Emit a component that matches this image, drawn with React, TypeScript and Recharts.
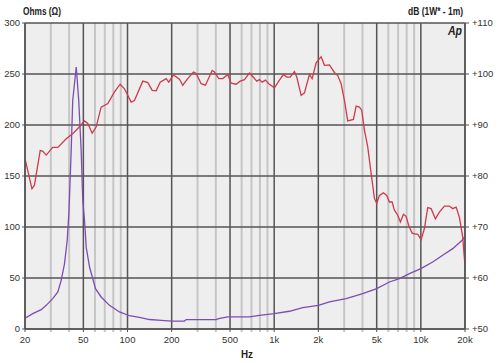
import React from "react";
import { LineChart, Line, XAxis, YAxis, ReferenceLine } from "recharts";

const xTicks = [20, 50, 100, 200, 500, 1000, 2000, 5000, 10000, 20000];
const xTickLabels = ["20", "50", "100", "200", "500", "1k", "2k", "5k", "10k", "20k"];
const minorFreqs = [30, 40, 60, 70, 80, 90, 300, 400, 600, 700, 800, 900, 3000, 4000, 6000, 7000, 8000, 9000];
const ohmTicks = [0, 50, 100, 150, 200, 250, 300];
const dbTicks = [50, 60, 70, 80, 90, 100, 110];

const splFreq = [20, 22.3, 23.2, 25.4, 26.4, 27.9, 30.9, 33.5, 38.2, 42.3, 46.5, 50.9, 53.6, 57.4, 61.1, 66.1, 73.4, 81.5, 89.1, 95.3, 105.9, 111.5, 127.1, 137.5, 147.3, 156.8, 167, 183.4, 191.1, 205.7, 226.1, 238.1, 257.5, 281.6, 293.8, 317.8, 340, 377.7, 391.5, 419, 446.1, 482.5, 508.9, 550.6, 586.2, 627, 678.3, 714.3, 760.6, 793.5, 827.8, 871.8, 918.2, 1004, 1086, 1156, 1218, 1285, 1375, 1425, 1527, 1608, 1739, 1815, 1932, 2090, 2201, 2381, 2575, 2713, 2861, 3013, 3173, 3470, 3621, 3813, 3954, 4125, 4343, 4581, 4826, 5003, 5219, 5556, 5851, 6105, 6369, 6604, 6955, 7256, 7604, 7934, 8265, 8718, 9183, 9520, 10040, 10576, 11140, 11750, 12570, 13380, 14470, 15650, 16490, 17400, 18320, 19300, 20000];
const splDb = [83.4, 77.5, 78.2, 85.0, 84.9, 84.1, 85.6, 85.6, 87.3, 88.3, 89.5, 90.8, 90.3, 88.4, 89.6, 93.5, 94.2, 96.5, 98.0, 97.1, 94.5, 94.8, 98.6, 98.3, 96.8, 96.7, 98.4, 99.1, 98.4, 99.8, 99.0, 97.8, 99.1, 100.4, 100.1, 98.1, 97.8, 100.7, 100.4, 99.1, 99.1, 99.9, 98.2, 98.0, 98.6, 98.9, 100.2, 99.5, 98.6, 98.9, 98.4, 98.8, 98.1, 97.3, 98.8, 99.9, 99.4, 99.4, 100.5, 99.4, 95.8, 96.3, 99.9, 99.1, 102.2, 103.4, 101.7, 101.8, 100.3, 99.7, 98.1, 94.8, 90.8, 91.1, 93.7, 93.5, 92.9, 89.0, 85.7, 80.5, 75.6, 74.6, 76.2, 76.7, 76.2, 74.9, 74.9, 73.3, 72.3, 71.0, 72.5, 72.1, 70.3, 68.8, 68.6, 68.6, 67.5, 69.7, 73.8, 73.6, 71.6, 72.9, 74.1, 74.1, 73.6, 73.9, 71.9, 68.0, 62.3];

const impFreq = [20, 22.6, 25.8, 27.9, 30.9, 33.5, 35.3, 37.2, 38.8, 39.8, 40.2, 41.3, 42.3, 44.7, 46.5, 48.3, 49.5, 50.9, 52.3, 55.1, 60.5, 66.1, 75.3, 88.1, 103.1, 120.6, 141.2, 170, 200, 244.5, 251, 402, 418, 482, 678, 794, 1000, 1271, 1565, 2000, 2381, 3094, 4016, 5000, 6105, 7142, 8357, 10000, 12040, 14090, 16490, 19110, 20000];
const impOhm = [10.5, 15.1, 19, 23.2, 29.8, 36.3, 47.7, 64.1, 87, 113, 129, 175, 224, 256.9, 224, 175, 127, 106.6, 80, 60.8, 39.6, 31.4, 23.2, 16.7, 13, 11.5, 9.3, 8.5, 7.8, 7.8, 9.2, 9.2, 10.2, 11.8, 11.8, 13.4, 15.1, 17.4, 21, 23.2, 26.5, 29.8, 34.7, 39.6, 46.1, 49.4, 54.3, 59.2, 65.7, 72.3, 78.8, 87, 90.7];

const splData = splFreq.map((f, i) => ({ f, v: splDb[i] }));
const impData = impFreq.map((f, i) => ({ f, v: impOhm[i] }));

const FONT = "'Liberation Sans', Arial, Helvetica, sans-serif";
const tickStyle = { fontSize: 9.5, fill: "#333", fontFamily: FONT };
const DARK = "#555";
const LIGHT = "#c6c6c6";
const RED = "#d03a4c";
const PURPLE = "#7b4db3";

export default function App() {
  return (
    <div style={{ position: "absolute", left: 0, top: 0, width: 501, height: 363, background: "#fff" }}>
      <LineChart width={501} height={363} margin={{ top: 23, right: 1, bottom: 4, left: 0 }}>
        <rect x={25} y={23} width={440} height={306} fill="#eeeeee" />
        <XAxis
          dataKey="f"
          type="number"
          scale="log"
          domain={[20, 20000]}
          allowDataOverflow
          ticks={xTicks}
          tickFormatter={(v: number) => xTickLabels[xTicks.indexOf(v)] ?? String(v)}
          tick={tickStyle}
          tickSize={3}
          tickMargin={4}
          height={30}
          stroke={DARK}
          axisLine={{ stroke: DARK, strokeWidth: 1.5 }}
          tickLine={{ stroke: DARK }}
        />
        <YAxis
          yAxisId="left"
          domain={[0, 300]}
          ticks={ohmTicks}
          tick={tickStyle}
          tickSize={3}
          tickMargin={2}
          width={25}
          axisLine={{ stroke: DARK, strokeWidth: 1.5 }}
          tickLine={{ stroke: DARK }}
          allowDataOverflow
        />
        <YAxis
          yAxisId="right"
          orientation="right"
          domain={[50, 110]}
          ticks={dbTicks}
          tickFormatter={(v: number) => "+" + v}
          tick={tickStyle}
          tickSize={4}
          tickMargin={3}
          width={35}
          axisLine={{ stroke: DARK, strokeWidth: 1.5 }}
          tickLine={{ stroke: DARK }}
          allowDataOverflow
        />
        {minorFreqs.map((f) => (
          <ReferenceLine
            key={"m" + f}
            yAxisId="left"
            segment={[{ x: f, y: -3 }, { x: f, y: 300 }]}
            ifOverflow="visible"
            stroke={LIGHT}
            strokeWidth={2}
          />
        ))}
        {xTicks.map((f) => (
          <ReferenceLine key={"M" + f} yAxisId="left" x={f} stroke={DARK} strokeWidth={1.5} />
        ))}
        {ohmTicks.map((o) => (
          <ReferenceLine key={"h" + o} yAxisId="left" y={o} stroke={DARK} strokeWidth={1.5} />
        ))}
        <Line
          yAxisId="left"
          data={impData}
          dataKey="v"
          stroke={PURPLE}
          strokeWidth={1.3}
          dot={false}
          isAnimationActive={false}
          type="linear"
        />
        <Line
          yAxisId="right"
          data={splData}
          dataKey="v"
          stroke={RED}
          strokeWidth={1.3}
          dot={false}
          isAnimationActive={false}
          type="linear"
        />
        <text x={23} y={14.5} fontSize={10} fontWeight="bold" fill="#222" fontFamily={FONT} textLength={38} lengthAdjust="spacingAndGlyphs">
          Ohms (Ω)
        </text>
        <text x={408} y={14.5} fontSize={10} fontWeight="bold" fill="#222" fontFamily={FONT} textLength={55} lengthAdjust="spacingAndGlyphs">
          dB (1W* - 1m)
        </text>
        <text x={448} y={35} fontSize={12} fontWeight="bold" fontStyle="italic" fill="#222" fontFamily={FONT} textLength={14} lengthAdjust="spacingAndGlyphs">
          Ap
        </text>
        <text x={241} y={358} fontSize={10} fontWeight="bold" fill="#222" fontFamily={FONT} textLength={12} lengthAdjust="spacingAndGlyphs">
          Hz
        </text>
      </LineChart>
    </div>
  );
}
